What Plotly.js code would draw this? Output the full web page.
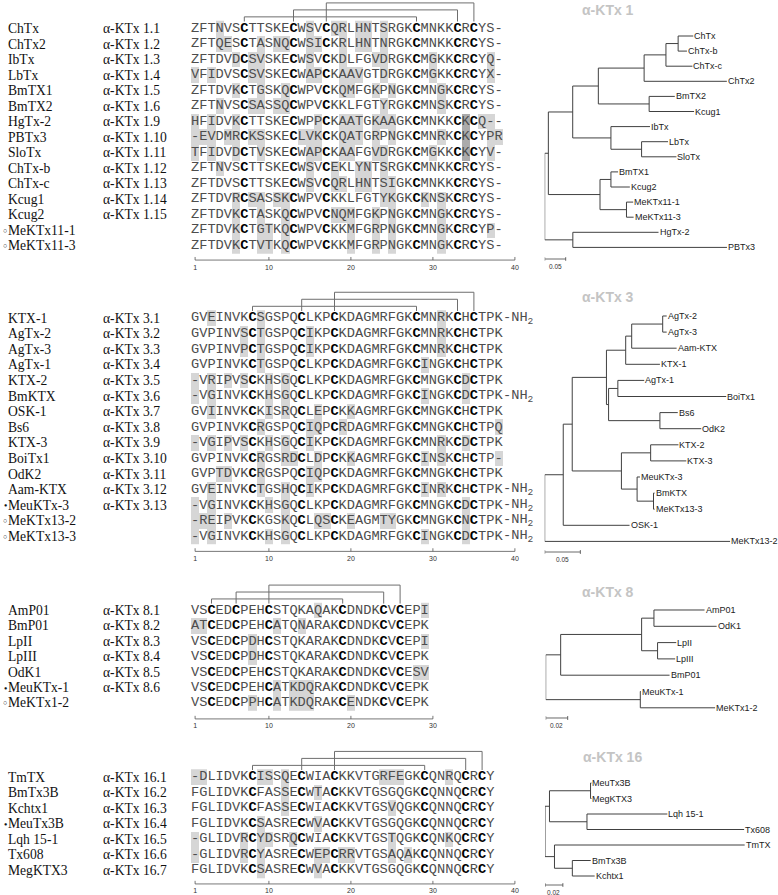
<!DOCTYPE html>
<html><head><meta charset="utf-8">
<script src="https://cdn.plot.ly/plotly-3.0.1.min.js"></script>
<style>html,body{margin:0;padding:0;background:#fff}#chart{width:778px;height:895px}</style>
</head><body><div id="chart"></div>
<script>
// ================= DATA =================
// alpha-KTx 1
const k1Names = ['ChTx','ChTx2','IbTx','LbTx','BmTX1','BmTX2','HgTx-2','PBTx3','SloTx','ChTx-b','ChTx-c','Kcug1','Kcug2','MeKTx11-1','MeKTx11-3'];
const k1Labels = ['α-KTx 1.1','α-KTx 1.2','α-KTx 1.3','α-KTx 1.4','α-KTx 1.5','α-KTx 1.6','α-KTx 1.9','α-KTx 1.10','α-KTx 1.11','α-KTx 1.12','α-KTx 1.13','α-KTx 1.14','α-KTx 1.15','',''];
const k1Marks = ['','','','','','','','','','','','','','open','open'];
const k1Seqs = [
 'ZFTNVSCTTSKECWSVCQRLHNTSRGKCMNKKCRCYS-',
 'ZFTQESCTASNQCWSICKRLHNTNRGKCMNKKCRCYS-',
 'ZFTDVDCSVSKECWSVCKDLFGVDRGKCMGKKCRCYQ-',
 'VFIDVSCSVSKECWAPCKAAVGTDRGKCMGKKCRCYX-',
 'ZFTDVKCTGSKQCWPVCKQMFGKPNGKCMNGKCRCYS-',
 'ZFTNVSCSASSQCWPVCKKLFGTYRGKCMNSKCRCYS-',
 'HFIDVKCTTSKECWPPCKAATGKAAGKCMNKKCKCQ--',
 '-EVDMRCKSSKECLVKCKQATGRPNGKCMNRKCKCYPR',
 'TFIDVDCTVSKECWAPCKAAFGVDRGKCMGKKCKCYV-',
 'ZFTNVSCTTSKECWSVCEKLYNTSRGKCMNKKCRCYS-',
 'ZFTDVSCTTSKECWSVCQRLHNTSIGKCMNKKCRCYS-',
 'ZFTDVRCSASSKCWPVCKKLFGTYKGKCKNSKCRCYS-',
 'ZFTDVKCTASKQCWPVCNQMFGKPNGKCMNGKCRCYS-',
 'ZFTDVKCTGTKQCWPVCKKMFGRPNGKCMNGKCRCYP-',
 'ZFTDVKCTVTKQCWPVCKKMFGRPNGKCMNGKCRCYS-'];
const k1Suffix = [];
const k1Bridges = [[7,28],[13,33],[17,35]];
const k1Dark = [[7,34],[8,34],[9,34]];
const k1Ruler = [1,10,20,30,40];
const k1Tree = '(((((((ChTx:0.036,ChTx-b:0.021):0.029,ChTx-c:0.063):0.052,ChTx2:0.197):0.109,(BmTX2:0.061,Kcug1:0.107):0.121):0.061,(IbTx:0.093,(LbTx:0.063,SloTx:0.083):0.073):0.091):0.058,((BmTX1:0.017,Kcug2:0.045):0.026,(MeKTx11-1:0.016,MeKTx11-3:0.017):0.063):0.123):0.0087,(HgTx-2:0.204,PBTx3:0.367):0.067);';
const k1Scale = 0.05;

// alpha-KTx 3
const k3Names = ['KTX-1','AgTx-2','AgTx-3','AgTx-1','KTX-2','BmKTX','OSK-1','Bs6','KTX-3','BoiTx1','OdK2','Aam-KTX','MeuKTx-3','MeKTx13-2','MeKTx13-3'];
const k3Labels = ['α-KTx 3.1','α-KTx 3.2','α-KTx 3.3','α-KTx 3.4','α-KTx 3.5','α-KTx 3.6','α-KTx 3.7','α-KTx 3.8','α-KTx 3.9','α-KTx 3.10','α-KTx 3.11','α-KTx 3.12','α-KTx 3.13','',''];
const k3Marks = ['','','','','','','','','','','','','filled','open','open'];
const k3Seqs = [
 'GVEINVKCSGSPQCLKPCKDAGMRFGKCMNRKCHCTPK',
 'GVPINVSCTGSPQCIKPCKDAGMRFGKCMNRKCHCTPK',
 'GVPINVPCTGSPQCIKPCKDAGMRFGKCMNRKCHCTPK',
 'GVPINVKCTGSPQCLKPCKDAGMRFGKCINGKCHCTPK',
 '-VRIPVSCKHSGQCLKPCKDAGMRFGKCMNGKCDCTPK',
 '-VGINVKCKHSGQCLKPCKDAGMRFGKCINGKCDCTPK',
 'GVIINVKCKISRQCLEPCKKAGMRFGKCMNGKCHCTPK',
 'GVPINVKCRGSPQCIQPCRDAGMRFGKCMNGKCHCTPQ',
 '-VGIPVSCKHSGQCIKPCKDAGMRFGKCMNRKCDCTPK',
 'GVPINVKCRGSRDCLDPCKKAGMRFGKCINSKCHCTP-',
 'GVPTDVKCRGSPQCIQPCKDAGMRFGKCMNGKCHCTPK',
 'GVEINVKCTGSHQCIKPCKDAGMRFGKCINRKCHCTPK',
 '-VGINVKCKHSGQCLKPCKDAGMRFGKCMNGKCDCTPK',
 '-REIPVKCKGSKQCLQSCKEAGMTYGKCMNGKCNCTPK',
 '-VGINVKCKHSGQCLKPCKDAGMRFGKCINGKCDCTPK'];
const k3Suffix = [1,6,12,13,14,15];
const k3Bridges = [[8,28],[14,33],[18,35]];
const k3Dark = [];
const k3Ruler = [1,10,20,30,40];
const k3Tree = '(((((((AgTx-2:0.0056,AgTx-3:0.0056):0.0435,Aam-KTX:0.063):0.0084,KTX-1:0.048):0.027,((AgTx-1:0.037,BoiTx1:0.152):0.013,(Bs6:0.025,OdK2:0.058):0.072):0.003):0.048,((KTX-2:0.039,KTX-3:0.05):0.041,(MeuKTx-3:0.004,(BmKTX:0.0015,MeKTx13-3:0.0015):0.023):0.022):0.069):0.0126,OSK-1:0.093):0.026,MeKTx13-2:0.26);';
const k3Scale = 0.05;

// alpha-KTx 8
const k8Names = ['AmP01','BmP01','LpII','LpIII','OdK1','MeuKTx-1','MeKTx1-2'];
const k8Labels = ['α-KTx 8.1','α-KTx 8.2','α-KTx 8.3','α-KTx 8.4','α-KTx 8.5','α-KTx 8.6',''];
const k8Marks = ['','','','','','filled','open'];
const k8Seqs = [
 'VSCEDCPEHCSTQKAQAKCDNDKCVCEPI',
 'ATCEDCPEHCATQNARAKCDNDKCVCEPK',
 'VSCEDCPDHCSTQKARAKCDNDKCVCEPI',
 'VSCEDCPDHCSTQKARAKCDNDKCVCEPK',
 'VSCEDCPEHCSTQKARAKCDNDKCVCESV',
 'VSCEDCPEHCATKDQRAKCDNDKCVCEPK',
 'VSCEDCPPHCATKDQRAKCENDKCVCEPK'];
const k8Suffix = [];
const k8Bridges = [[3,19],[6,24],[10,26]];
const k8Dark = [];
const k8Ruler = [1,10,20,30];
const k8Tree = '((((AmP01:0.046,OdK1:0.057):0.0112,(LpII:0.017,LpIII:0.016):0.0145):0.0736,BmP01:0.099):0.0136,(MeuKTx-1:0.0006,MeKTx1-2:0.068):0.086);';
const k8Scale = 0.02;

// alpha-KTx 16
const k16Names = ['TmTX','BmTx3B','Kchtx1','MeuTx3B','Lqh 15-1','Tx608','MegKTX3'];
const k16Labels = ['α-KTx 16.1','α-KTx 16.2','α-KTx 16.3','α-KTx 16.4','α-KTx 16.5','α-KTx 16.6','α-KTx 16.7'];
const k16Marks = ['','','','filled','','',''];
const k16Seqs = [
 '-DLIDVKCISSQECWIACKKVTGRFEGKCQNRQCRCY',
 'FGLIDVKCFASSECWTACKKVTGSGQGKCQNNQCRCY',
 'FGLIDVKCFASSECWIACKKVTGSVQGKCQNNQCRCY',
 'FGLIDVKCSASRECWVACKKVTGSGQGKCQNNQCRCY',
 '-GLIDVRCYDSRQCWIACKKVTGSTQGKCQNKQCRCY',
 '-GLIDVRCYASRECWEPCRRVTGSAQAKCQNNQCRCY',
 'FGLIDVKCSASRECWVACKKVTGSGQGKCQNNQCRCY'];
const k16Suffix = [];
const k16Bridges = [[8,29],[14,34],[18,36]];
const k16Dark = [];
const k16Ruler = [1,10,20,30,40];
const k16Tree = '(((MeuTx3B:0.001,MegKTX3:0.001):0.046,(Lqh 15-1:0.09,Tx608:0.176):0.042):0.005,(TmTX:0.213,(BmTx3B:0.0206,Kchtx1:0.025):0.02):0.0106);';
const k16Scale = 0.02;

// ================= LAYOUT / DRAWING =================
const W = 778, H = 895;
const panels = [
 {title:'α-KTx 1', names:k1Names, labels:k1Labels, marks:k1Marks, seqs:k1Seqs, suffix:k1Suffix, bridges:k1Bridges, dark:k1Dark, ruler:k1Ruler, tree:k1Tree, scale:k1Scale,
  g:{row1:28.5, sp:15.5, rulerOff:0.94}, t:{leaf0:36, sp:15.1, root:544.7, ppu:420, bar:259, titleX:608, titleY:10}},
 {title:'α-KTx 3', names:k3Names, labels:k3Labels, marks:k3Marks, seqs:k3Seqs, suffix:k3Suffix, bridges:k3Bridges, dark:k3Dark, ruler:k3Ruler, tree:k3Tree, scale:k3Scale,
  g:{row1:318, sp:15.6, rulerOff:0.96}, t:{leaf0:316, sp:16.1, root:544.7, ppu:713, bar:552, titleX:608, titleY:297}},
 {title:'α-KTx 8', names:k8Names, labels:k8Labels, marks:k8Marks, seqs:k8Seqs, suffix:k8Suffix, bridges:k8Bridges, dark:k8Dark, ruler:k8Ruler, tree:k8Tree, scale:k8Scale,
  g:{row1:610.5, sp:15.4, rulerOff:1.04}, t:{leaf0:610, sp:16.3, root:545.7, ppu:1100, bar:718, titleX:608, titleY:592}},
 {title:'α-KTx 16', names:k16Names, labels:k16Labels, marks:k16Marks, seqs:k16Seqs, suffix:k16Suffix, bridges:k16Bridges, dark:k16Dark, ruler:k16Ruler, tree:k16Tree, scale:k16Scale,
  g:{row1:777, sp:15.5, rulerOff:0.9}, t:{leaf0:783, sp:15.5, root:545, ppu:893, bar:885, titleX:612, titleY:757}}
];

const ALN_X0 = 191, CHAR_W = 8.2, NCOL = 40;
const MONO = 'Liberation Mono, Courier New, monospace';
const SERIF = 'Liberation Serif, Times New Roman, serif';
const SANS = 'Liberation Sans, Arial, sans-serif';

function parseNewick(s){
  let i = 0;
  function node(){
    const n = {children:[], name:'', len:0};
    if (s[i] === '('){
      i++;
      n.children.push(node());
      while (s[i] === ','){ i++; n.children.push(node()); }
      i++;
    }
    let name = '';
    while (i < s.length && !':,);'.includes(s[i])) name += s[i++];
    n.name = name.trim();
    if (s[i] === ':'){
      i++; let num = '';
      while (i < s.length && !',);'.includes(s[i])) num += s[i++];
      n.len = parseFloat(num);
    }
    return n;
  }
  return node();
}
function layoutTree(root){
  let k = 0; const leaves = [], segs = {x:[], y:[]};
  (function walk(n, x){
    n.x = x;
    if (!n.children.length){ n.y = k++; leaves.push(n); }
    else {
      n.children.forEach(c => walk(c, x + c.len));
      n.y = (n.children[0].y + n.children[n.children.length-1].y) / 2;
    }
  })(root, 0);
  (function draw(n, parent){
    if (parent){ segs.x.push(parent.x, n.x, null); segs.y.push(n.y, n.y, null); }
    if (n.children.length){
      segs.x.push(n.x, n.x, null);
      segs.y.push(n.children[0].y, n.children[n.children.length-1].y, null);
      n.children.forEach(c => draw(c, n));
    }
  })(root, null);
  return {leaves, segs};
}
function consensusMask(seqs){
  const L = Math.max(...seqs.map(s => s.length));
  const cons = [];
  for (let c = 0; c < L; c++){
    const cnt = new Map();
    seqs.forEach(s => { const ch = s[c] || '-'; cnt.set(ch, (cnt.get(ch) || 0) + 1); });
    let best = null, bc = -1;
    cnt.forEach((v, kk) => { if (v > bc){ bc = v; best = kk; } });
    cons.push(best);
  }
  return seqs.map(s => cons.map((ch, c) => (s[c] || '-') !== ch));
}

const traces = [];
const layout = {width:W, height:H, margin:{l:0,r:0,t:0,b:0}, paper_bgcolor:'#fff', plot_bgcolor:'rgba(0,0,0,0)',
  showlegend:false, hovermode:false, annotations:[]};
const hidden = {visible:true, showgrid:false, zeroline:false, showticklabels:false, showline:false, ticks:'', fixedrange:true};
const py = px => 1 - px / H;

panels.forEach((p, i) => {
  const ax = 2*i + 1, tx = 2*i + 2;
  const xa = 'x' + ax, ya = 'y' + ax, xt = 'x' + tx, yt = 'y' + tx;
  const n = p.seqs.length, g = p.g;
  const topPx = Math.max(0, g.row1 - 2.0*g.sp);
  const botPx = Math.min(H, g.row1 + (n - 1 + g.rulerOff + 0.9)*g.sp);
  const yTop = 1 - (g.row1 - topPx)/g.sp, yBot = 1 + (botPx - g.row1)/g.sp;
  layout['xaxis' + ax] = Object.assign({}, hidden, {domain:[ALN_X0/W, (ALN_X0 + NCOL*CHAR_W)/W], range:[0.5, NCOL + 0.5], anchor:ya});
  layout['yaxis' + ax] = Object.assign({}, hidden, {domain:[py(botPx), py(topPx)], range:[yBot, yTop], anchor:xa});

  const mask = consensusMask(p.seqs);
  const L = Math.max(...p.seqs.map(s => s.length));
  const z = mask.map(row => row.map(v => v ? 1 : null));
  p.dark.forEach(([r, c]) => { z[r-1][c-1] = 2; });
  traces.push({type:'heatmap', xaxis:xa, yaxis:ya, x:Array.from({length:L}, (_, c) => c + 1), y:p.seqs.map((_, r) => r + 1), z:z,
    zmin:1, zmax:2, colorscale:[[0,'#d6d6d6'],[1,'#ababab']], showscale:false, hoverinfo:'skip', xgap:0, ygap:0});

  const nx = [], ny = [], nt = [], bx = [], by = [], bt = [];
  p.seqs.forEach((s, r) => {
    for (let c = 0; c < s.length; c++){
      if (s[c] === 'C'){ bx.push(c + 1); by.push(r + 1); bt.push('C'); }
      else { nx.push(c + 1); ny.push(r + 1); nt.push(s[c]); }
    }
  });
  traces.push({type:'scatter', mode:'text', xaxis:xa, yaxis:ya, x:nx, y:ny, text:nt, textposition:'middle center', cliponaxis:false, hoverinfo:'skip',
    textfont:{family:MONO, size:13.67, color:'#4d4d4d'}});
  traces.push({type:'scatter', mode:'text', xaxis:xa, yaxis:ya, x:bx, y:by, text:bt, textposition:'middle center', cliponaxis:false, hoverinfo:'skip',
    textfont:{family:MONO, size:13.67, color:'#000', weight:'bold'}});

  const brx = [], bry = [];
  const levels = [0.25, -0.2, -0.65], vbot = 0.55;
  p.bridges.forEach(([a, b], k) => {
    brx.push(a, a, b, b, null); bry.push(vbot, levels[k], levels[k], vbot, null);
  });
  traces.push({type:'scatter', mode:'lines', xaxis:xa, yaxis:ya, x:brx, y:bry, line:{color:'#6e6e6e', width:1}, hoverinfo:'skip'});

  const ry = n + g.rulerOff;
  const rx = [p.ruler[0], p.ruler[p.ruler.length-1], null], rly = [ry, ry, null];
  p.ruler.forEach(t => { rx.push(t, t, null); rly.push(ry, ry - 0.2, null); });
  traces.push({type:'scatter', mode:'lines', xaxis:xa, yaxis:ya, x:rx, y:rly, line:{color:'#555', width:0.8}, hoverinfo:'skip'});
  traces.push({type:'scatter', mode:'text', xaxis:xa, yaxis:ya, x:p.ruler, y:p.ruler.map(() => ry + 0.5), text:p.ruler.map(String),
    textposition:'middle center', cliponaxis:false, hoverinfo:'skip', textfont:{family:SANS, size:7, color:'#333'}});

  p.suffix.forEach(r => {
    layout.annotations.push({xref:xa, yref:ya, x:p.seqs[r-1].length + 0.5, y:r, xanchor:'left', yanchor:'middle', showarrow:false,
      borderpad:0, borderwidth:0, text:'-NH<sub>2</sub>', font:{family:MONO, size:13.67, color:'#4d4d4d'}});
  });

  p.names.forEach((nm, r) => {
    layout.annotations.push({xref:'paper', yref:ya, x:8/W, y:r + 1, xanchor:'left', yanchor:'middle', showarrow:false, borderpad:0, borderwidth:0,
      text:nm, font:{family:SERIF, size:13.6, color:'#111'}});
    if (p.labels[r]) layout.annotations.push({xref:'paper', yref:ya, x:103/W, y:r + 1, xanchor:'left', yanchor:'middle', showarrow:false, borderpad:0, borderwidth:0,
      text:p.labels[r], font:{family:SERIF, size:13.6, color:'#111'}});
    if (p.marks[r]) layout.annotations.push({xref:'paper', yref:ya, x:7/W, y:r + 1, xanchor:'right', yanchor:'middle', showarrow:false, borderpad:0, borderwidth:0,
      text:p.marks[r] === 'filled' ? '●' : '○', font:{family:SANS, size:p.marks[r] === 'filled' ? 5.5 : 7, color:'#111'}});
  });

  const t = p.t;
  const tree = layoutTree(parseNewick(p.tree));
  const tTop = Math.max(0, t.leaf0 - 1.6*t.sp), tBot = Math.min(H, t.bar + 12);
  const tyTop = -(t.leaf0 - tTop)/t.sp, tyBot = (tBot - t.leaf0)/t.sp;
  layout['xaxis' + tx] = Object.assign({}, hidden, {domain:[t.root/W, 1], range:[0, (W - t.root)/t.ppu], anchor:yt});
  layout['yaxis' + tx] = Object.assign({}, hidden, {domain:[py(tBot), py(tTop)], range:[tyBot, tyTop], anchor:xt});
  traces.push({type:'scatter', mode:'lines', xaxis:xt, yaxis:yt, x:tree.segs.x, y:tree.segs.y, line:{color:'#404040', width:1}, hoverinfo:'skip'});
  tree.leaves.forEach(lf => {
    layout.annotations.push({xref:xt, yref:yt, x:lf.x, y:lf.y, xanchor:'left', yanchor:'middle', xshift:1, showarrow:false, borderpad:0, borderwidth:0,
      text:lf.name, font:{family:SANS, size:9, color:'#222'}});
  });
  const sy = (t.bar - t.leaf0)/t.sp, cap = 0.12;
  traces.push({type:'scatter', mode:'lines', xaxis:xt, yaxis:yt, x:[0, p.scale, null, 0, 0, null, p.scale, p.scale], y:[sy, sy, null, sy - cap, sy + cap, null, sy - cap, sy + cap],
    line:{color:'#444', width:0.8}, hoverinfo:'skip'});
  layout.annotations.push({xref:xt, yref:yt, x:p.scale/2, y:sy, yshift:-7, xanchor:'center', yanchor:'middle', showarrow:false, borderpad:0, borderwidth:0,
    text:String(p.scale), font:{family:SANS, size:6.5, color:'#333'}});
  layout.annotations.push({xref:'paper', yref:'paper', x:t.titleX/W, y:py(t.titleY), xanchor:'center', yanchor:'middle', showarrow:false,
    text:'<b>' + p.title + '</b>', font:{family:SANS, size:14, color:'#c4c4c4'}});
});

Plotly.newPlot('chart', traces, layout, {staticPlot:true, displayModeBar:false});
</script>
</body></html>
